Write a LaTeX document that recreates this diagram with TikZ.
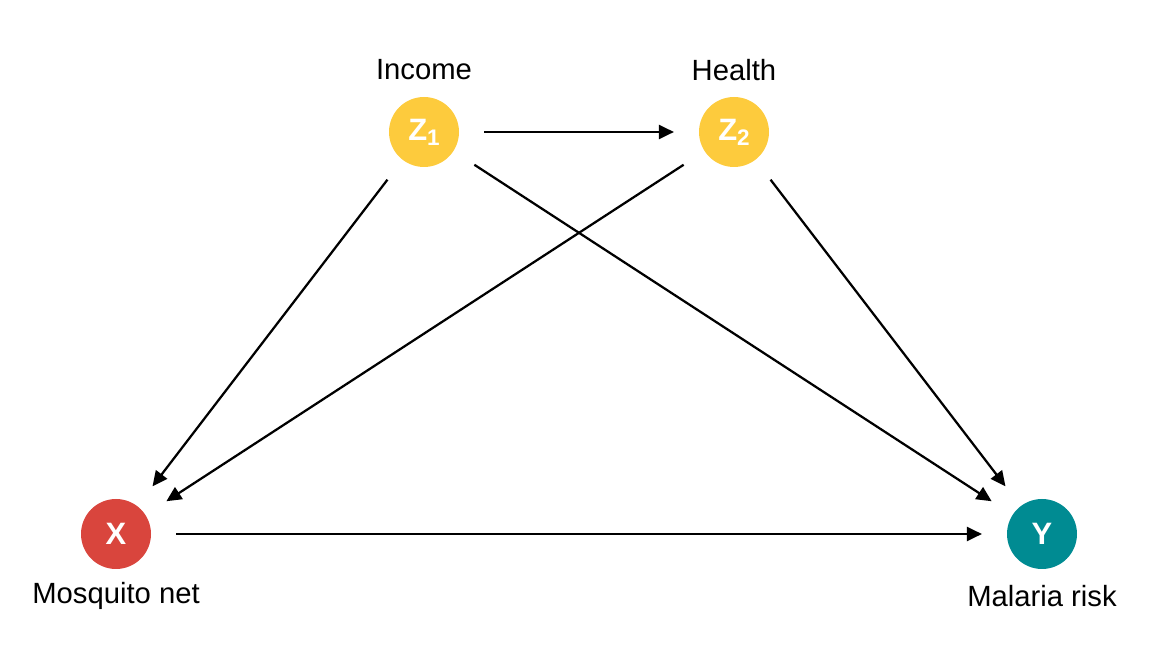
\documentclass[tikz,border=0pt]{standalone}
\usepackage{fontspec}
\setmainfont{Liberation Sans}
\usetikzlibrary{arrows.meta}
\definecolor{zyellow}{HTML}{FDCB3D}
\definecolor{xred}{HTML}{D9453D}
\definecolor{yteal}{HTML}{008B92}
\newcommand{\zsub}[1]{Z\raisebox{-0.3ex}{\fontsize{16}{18}\selectfont\bfseries #1}}
\tikzset{
    var/.style={circle,minimum size=1.75cm,inner sep=0pt,text=white,font=\fontsize{22}{24}\selectfont\bfseries},
    lbl/.style={font=\fontsize{20.8}{23}\selectfont},
    edge/.style={-{Triangle[length=0.375cm,width=0.35cm]},line width=1.6pt,shorten >=0.62cm,shorten <=0.62cm}
}
\begin{document}
\begin{tikzpicture}
            \useasboundingbox (0,0) rectangle (28.8,16.8);
            \draw (10.6,13.5) node[var,fill=zyellow] (z1) {\zsub{1}} +(0,1.55) node[lbl] (inc) {Income};
            \draw (18.35,13.5) node[var,fill=zyellow] (z2) {\zsub{2}} +(0,1.55) node[lbl] (hea) {Health};
            \draw (2.9,3.45) node[var,fill=xred] (x) {X} +(0,-1.55) node[lbl] (net) {Mosquito net};
            \draw (26.05,3.45) node[var,fill=yteal] (y) {Y} +(0,-1.55) node[lbl] (mal) {Malaria risk};
            \draw[edge] (z1) -- (z2);
            \draw[edge] (z1) -- (x);
            \draw[edge] (z1) -- (y);
            \draw[edge] (z2) -- (x);
            \draw[edge] (z2) -- (y);
            \draw[edge] (x) -- (y);
        \end{tikzpicture}
\end{document}
